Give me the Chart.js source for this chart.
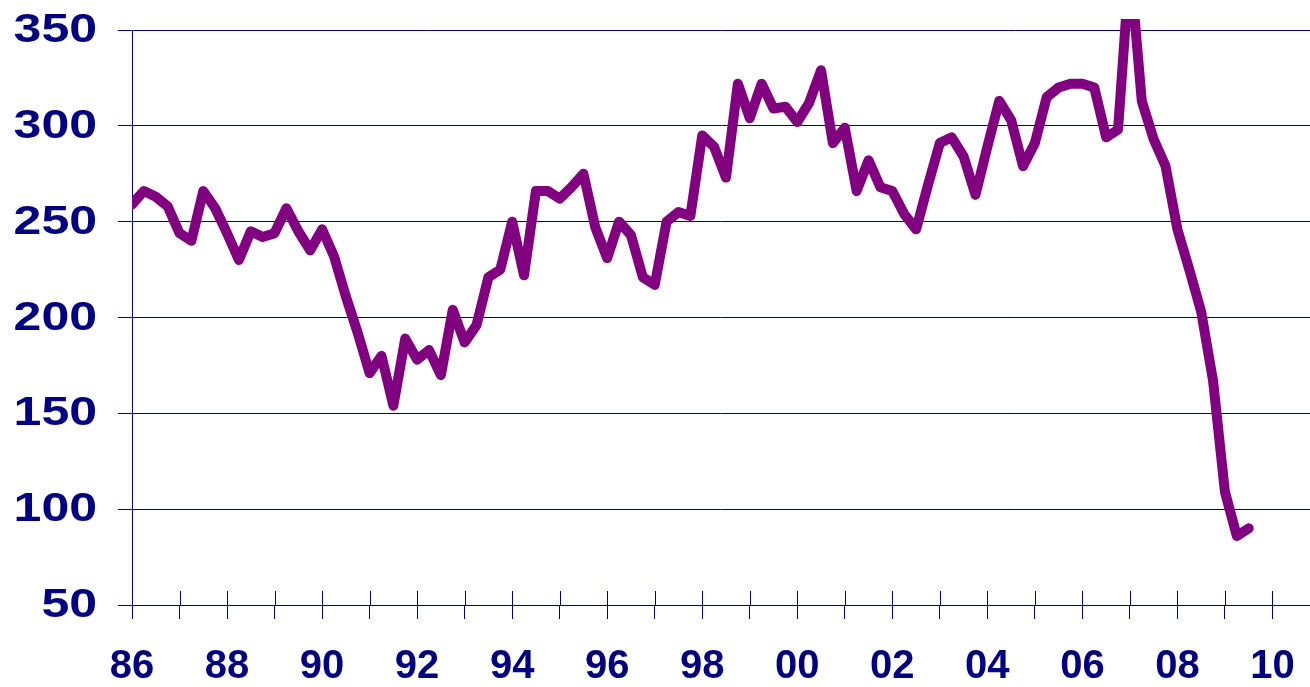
<!DOCTYPE html>
<html>
<head>
<meta charset="utf-8">
<script src="https://cdn.jsdelivr.net/npm/chart.js@4/dist/chart.umd.min.js"></script>
<style>
  html, body { margin: 0; padding: 0; background: #fff; }
</style>
</head>
<body>
<canvas id="chart" width="1310" height="687"></canvas>
<script>
// quarterly index, 1986 Q1 onwards
const startYear = 1986;
const values = [
  259, 266, 263, 258, 244, 240, 266, 257, 244, 230,
  245, 242, 244, 257, 245, 235, 246, 232, 211, 192,
  171, 180, 154, 189, 178, 183, 170, 204, 187, 196,
  221, 225, 250, 222, 266, 266, 262, 268, 275, 247,
  231, 250, 243, 221, 217, 250, 255, 253, 295, 289,
  273, 322, 304, 322, 309, 310, 302, 312, 329, 291,
  299, 266, 282, 268, 266, 254, 246, 269, 291, 294,
  284, 264, 289, 313, 303, 279, 291, 315, 320, 322,
  322, 320, 294, 298, 385, 313, 293, 279, 246, 225,
  203, 167, 109, 86, 90
];
const yearTicks = [];
for (let y = 1986; y <= 2010; y++) yearTicks.push(y);
const yTicks = [50, 100, 150, 200, 250, 300, 350];

const navy = '#000080';
const labelFont = 'bold 40px "Liberation Sans", Arial, sans-serif';
const points = values.map((v, i) => ({ x: startYear + i / 4, y: v }));

// x ticks cross the axis line; y labels are drawn a bit stretched like the original
const axisExtras = {
  id: 'axisExtras',
  afterDraw(chart) {
    const { ctx, scales: { x, y } } = chart;
    const yb = chart.chartArea.bottom;
    ctx.save();
    ctx.strokeStyle = navy;
    ctx.lineWidth = 1;
    x.ticks.forEach(t => {
      const px = Math.round(x.getPixelForValue(t.value)) + 0.5;
      ctx.beginPath();
      ctx.moveTo(px, yb - 14);
      ctx.lineTo(px, yb);
      ctx.stroke();
    });
    ctx.fillStyle = navy;
    ctx.font = labelFont;
    ctx.textAlign = 'right';
    ctx.textBaseline = 'middle';
    yTicks.forEach(v => {
      const py = y.getPixelForValue(v);
      ctx.save();
      ctx.translate(97, py + 1);
      ctx.scale(1.25, 1);
      ctx.fillText(String(v), 0, 0);
      ctx.restore();
    });
    ctx.restore();
  }
};

new Chart(document.getElementById('chart'), {
  type: 'line',
  data: {
    datasets: [{
      data: points,
      borderColor: '#800080',
      borderWidth: 10,
      borderJoinStyle: 'round',
      borderCapStyle: 'round',
      pointRadius: 0,
      tension: 0,
      fill: false,
      clip: { left: 0, top: 11, right: 0, bottom: 0 }
    }]
  },
  options: {
    responsive: false,
    animation: false,
    devicePixelRatio: 1,
    layout: { autoPadding: false, padding: { top: 30, right: 0, left: 0, bottom: 0 } },
    plugins: { legend: { display: false }, tooltip: { enabled: false } },
    scales: {
      x: {
        type: 'linear',
        min: 1986,
        max: 2010.79,
        afterBuildTicks: axis => { axis.ticks = yearTicks.map(v => ({ value: v })); },
        afterFit: axis => { axis.height = 82; axis.paddingLeft = 0; axis.paddingRight = 0; },
        grid: { drawOnChartArea: false, drawTicks: true, tickLength: 14, color: navy },
        border: { color: navy, width: 1 },
        ticks: {
          autoSkip: false,
          maxRotation: 0,
          padding: 24,
          color: navy,
          font: { family: '"Liberation Sans", Arial', size: 40, weight: 'bold' },
          callback: v => (v % 2 === 0 ? String(v % 100).padStart(2, '0') : '')
        }
      },
      y: {
        min: 50,
        max: 350,
        afterBuildTicks: axis => { axis.ticks = yTicks.map(v => ({ value: v })); },
        afterFit: axis => { axis.width = 132; axis.paddingTop = 0; axis.paddingBottom = 0; },
        grid: { color: navy, tickLength: 14 },
        border: { color: navy, width: 1 },
        ticks: {
          padding: 21,
          color: 'rgba(0,0,0,0)',
          font: { size: 10 }
        }
      }
    }
  },
  plugins: [axisExtras]
});
</script>
</body>
</html>
